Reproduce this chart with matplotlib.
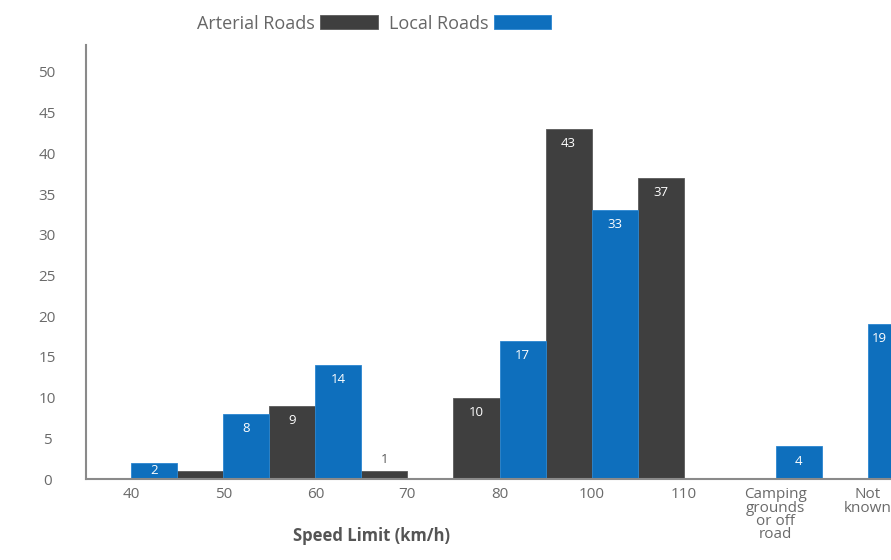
import matplotlib
matplotlib.use("Agg")
import matplotlib.pyplot as plt
import numpy as np

categories = ["40", "50", "60", "70", "80", "100", "110",
              "Camping\ngrounds\nor off\nroad", "Not\nknown"]
arterial = [0, 1, 9, 1, 10, 43, 37, 0, 0]
local = [2, 8, 14, 0, 17, 33, 0, 4, 19]
# which bars carry a printed value
arterial_labelled = [False, False, True, True, True, True, True, False, False]
local_labelled = [True, True, True, False, True, True, False, True, True]
y_ticks = [0, 5, 10, 15, 20, 25, 30, 35, 40, 45, 50]

dark = "#3f3f3f"
blue = "#0e6fbd"
text_grey = "#6a6a6a"

plt.rcParams["font.family"] = ["Open Sans", "DejaVu Sans"]

fig = plt.figure(figsize=(8.91, 5.6), dpi=100)
ax = fig.add_axes([0.0965, 0.1446, 0.9035, 0.775])

x = np.arange(len(categories))
w = 0.5
b_art = ax.bar(x - w / 2, arterial, width=w, color=dark, edgecolor="#5a5a5a",
               linewidth=0.6, label="Arterial Roads")
b_loc = ax.bar(x + w / 2, local, width=w, color=blue, edgecolor="#2a86d0",
               linewidth=0.6, label="Local Roads")

x_right = 8.25
for bars, vals, flags in ((b_art, arterial, arterial_labelled),
                          (b_loc, local, local_labelled)):
    for rect, v, f in zip(bars, vals, flags):
        if not f:
            continue
        left = rect.get_x()
        right = min(left + rect.get_width(), x_right)
        cx = (left + right) / 2
        if v <= 1:
            ax.text(cx, v + 0.6, str(v), ha="center", va="bottom",
                    color="#555555", fontsize=9.5)
        elif v <= 3:
            ax.text(cx, v / 2, str(v), ha="center", va="center",
                    color="white", fontsize=9.5)
        else:
            ax.text(cx, v - 1.0, str(v), ha="center", va="top",
                    color="white", fontsize=9.5)

ax.set_xlim(-0.49, x_right)
ax.set_ylim(0, 53.3)
ax.set_yticks(y_ticks)
ax.set_xticks(x)
ax.set_xticklabels(categories, linespacing=0.85)
ax.tick_params(axis="y", length=0, pad=28, labelsize=11, labelcolor=text_grey)
ax.tick_params(axis="x", length=0, pad=6, labelsize=11, labelcolor=text_grey)
for lbl in ax.get_yticklabels():
    lbl.set_horizontalalignment("center")

for side in ("top", "right"):
    ax.spines[side].set_visible(False)
for side in ("left", "bottom"):
    ax.spines[side].set_color("#8a8a8a")
    ax.spines[side].set_linewidth(1.5)

ax.set_xlabel("Speed Limit (km/h)", fontsize=12, fontweight="bold",
              color="#555555")
ax.xaxis.set_label_coords(0.355, -0.11)

fig.legend(handles=[b_art, b_loc], loc="center", bbox_to_anchor=(0.42, 0.958),
           ncol=2, frameon=False, markerfirst=False, fontsize=13,
           handlelength=3.2, handleheight=0.8, handletextpad=0.3,
           columnspacing=0.6, labelcolor="#666666")

fig.savefig("out.png", dpi=100)
